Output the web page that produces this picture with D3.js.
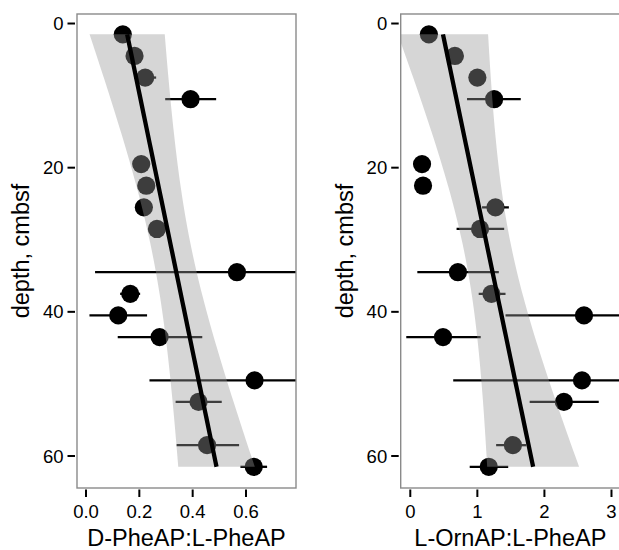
<!DOCTYPE html>
<html>
<head>
<meta charset="utf-8">
<script src="https://cdn.jsdelivr.net/npm/d3@7"></script>
<style>
  html, body { margin: 0; padding: 0; background: #ffffff; }
  svg { display: block; }
  text { font-family: "Liberation Sans", Arial, Helvetica, sans-serif; fill: #000; }
</style>
</head>
<body>
<svg id="chart" width="619" height="550"></svg>
<script>
// ---- data ----
const depth = [1.5, 4.5, 7.5, 10.5, 19.5, 22.5, 25.5, 28.5, 34.5, 37.5, 40.5, 43.5, 49.5, 52.5, 58.5, 61.5];

const dPhe   = [0.138, 0.182, 0.222, 0.392, 0.207, 0.226, 0.217, 0.266, 0.566, 0.166, 0.121, 0.276, 0.632, 0.422, 0.454, 0.629];
const dPheLo = [null, null, 0.181, 0.297, null, null, null, null, 0.034, 0.128, 0.013, 0.119, 0.238, 0.336, 0.340, 0.579];
const dPheHi = [null, null, 0.263, 0.488, null, null, null, null, 1.098, 0.203, 0.229, 0.436, 1.026, 0.509, 0.574, 0.679];

const lOrn   = [0.277, 0.665, 1.00, 1.25, 0.175, 0.190, 1.27, 1.04, 0.71, 1.21, 2.59, 0.488, 2.56, 2.29, 1.53, 1.17];
const lOrnLo = [null, null, null, 0.846, null, null, 1.07, 0.69, 0.105, 1.02, 1.42, -0.06, 0.64, 1.78, 1.28, 0.886];
const lOrnHi = [null, null, null, 1.647, null, null, 1.47, 1.40, 1.32, 1.42, 3.76, 1.05, 4.48, 2.81, 1.73, 1.46];

const depthTicks = [0, 20, 40, 60];
const dPheTicks = [0.0, 0.2, 0.4, 0.6];
const lOrnTicks = [0, 1, 2, 3];

const dPheTitle = "D-PheAP:L-PheAP";
const lOrnTitle = "L-OrnAP:L-PheAP";
const depthTitle = "depth, cmbsf";

// t quantile (0.975) for n - 2 = 14 degrees of freedom (95% CI like geom_smooth)
const T_CRIT = 2.1448;

// ---- layout ----
const svg = d3.select("#chart");
const panelTop = 14, panelBottom = 488;
const yScale = d3.scaleLinear().domain([-1.32, 64.44]).range([panelTop, panelBottom]);

const panels = [
  { id: "p1", left: 77, right: 296, domain: [-0.0337, 0.7874], vals: dPhe, lo: dPheLo, hi: dPheHi,
    ticks: dPheTicks, fmt: d3.format(".1f"), title: dPheTitle },
  { id: "p2", left: 400.7, right: 620, domain: [-0.143, 3.127], vals: lOrn, lo: lOrnLo, hi: lOrnHi,
    ticks: lOrnTicks, fmt: d3.format("d"), title: lOrnTitle }
];

function linReg(xs, ys) {
  const n = xs.length;
  const mx = d3.mean(xs), my = d3.mean(ys);
  let sxx = 0, sxy = 0;
  for (let i = 0; i < n; i++) { sxx += (xs[i] - mx) ** 2; sxy += (xs[i] - mx) * (ys[i] - my); }
  const b = sxy / sxx, a = my - b * mx;
  let sse = 0;
  for (let i = 0; i < n; i++) sse += (ys[i] - (a + b * xs[i])) ** 2;
  const s = Math.sqrt(sse / (n - 2));
  return { a, b, mx, sxx, s, n };
}

panels.forEach(p => {
  const x = d3.scaleLinear().domain(p.domain).range([p.left, p.right]);
  const g = svg.append("g");

  svg.append("clipPath").attr("id", "clip-" + p.id)
    .append("rect").attr("x", p.left).attr("y", panelTop)
    .attr("width", p.right - p.left).attr("height", panelBottom - panelTop);

  const pg = g.append("g").attr("clip-path", "url(#clip-" + p.id + ")");
  const rows = depth.map((d, i) => ({ d, v: p.vals[i], lo: p.lo[i], hi: p.hi[i] }));

  // error bars
  pg.selectAll("line.err").data(rows.filter(r => r.lo !== null)).join("line")
    .attr("x1", r => x(r.lo)).attr("x2", r => x(r.hi))
    .attr("y1", r => yScale(r.d)).attr("y2", r => yScale(r.d))
    .attr("stroke", "#000").attr("stroke-width", 2.3);

  // points
  pg.selectAll("circle").data(rows).join("circle")
    .attr("cx", r => x(r.v)).attr("cy", r => yScale(r.d)).attr("r", 9.1)
    .attr("fill", "#000");

  // linear fit with 95% confidence band (value ~ depth)
  const fit = linReg(depth, p.vals);
  const [dmin, dmax] = d3.extent(depth);
  const grid = d3.range(80).map(k => dmin + (dmax - dmin) * k / 79);
  const band = grid.map(d => {
    const yhat = fit.a + fit.b * d;
    const se = fit.s * Math.sqrt(1 / fit.n + (d - fit.mx) ** 2 / fit.sxx);
    return { d, yhat, lo: yhat - T_CRIT * se, hi: yhat + T_CRIT * se };
  });

  pg.append("path").datum(band)
    .attr("d", d3.area().y(b => yScale(b.d)).x0(b => x(b.lo)).x1(b => x(b.hi)))
    .attr("fill", "#999999").attr("fill-opacity", 0.4);

  pg.append("path").datum(band)
    .attr("d", d3.line().y(b => yScale(b.d)).x(b => x(b.yhat)))
    .attr("fill", "none").attr("stroke", "#000").attr("stroke-width", 4.3);

  // panel border
  g.append("rect").attr("x", p.left).attr("y", panelTop)
    .attr("width", p.right - p.left).attr("height", panelBottom - panelTop)
    .attr("fill", "none").attr("stroke", "#8a8a8a").attr("stroke-width", 1.4);

  // y axis ticks + labels
  const ya = g.append("g");
  ya.selectAll("line").data(depthTicks).join("line")
    .attr("x1", p.left - 9.5).attr("x2", p.left - 2)
    .attr("y1", d => yScale(d)).attr("y2", d => yScale(d))
    .attr("stroke", "#000").attr("stroke-width", 2);
  ya.selectAll("text").data(depthTicks).join("text")
    .attr("x", p.left - 13.5).attr("y", d => yScale(d)).attr("dy", "0.36em")
    .attr("text-anchor", "end").attr("font-size", 18.5).text(d => d);

  // x axis ticks + labels
  const xa = g.append("g");
  xa.selectAll("line").data(p.ticks).join("line")
    .attr("x1", d => x(d)).attr("x2", d => x(d))
    .attr("y1", panelBottom + 1.5).attr("y2", panelBottom + 9)
    .attr("stroke", "#000").attr("stroke-width", 2);
  xa.selectAll("text").data(p.ticks).join("text")
    .attr("x", d => x(d)).attr("y", 517.5)
    .attr("text-anchor", "middle").attr("font-size", 18.5).text(d => p.fmt(d));

  // titles
  g.append("text").attr("x", (p.left + p.right) / 2).attr("y", 546)
    .attr("text-anchor", "middle").attr("font-size", 23.5).text(p.title);
  g.append("text")
    .attr("transform", `translate(${p.left - 48},${(panelTop + panelBottom) / 2}) rotate(-90)`)
    .attr("text-anchor", "middle").attr("font-size", 23.5).text(depthTitle);
});
</script>
</body>
</html>
